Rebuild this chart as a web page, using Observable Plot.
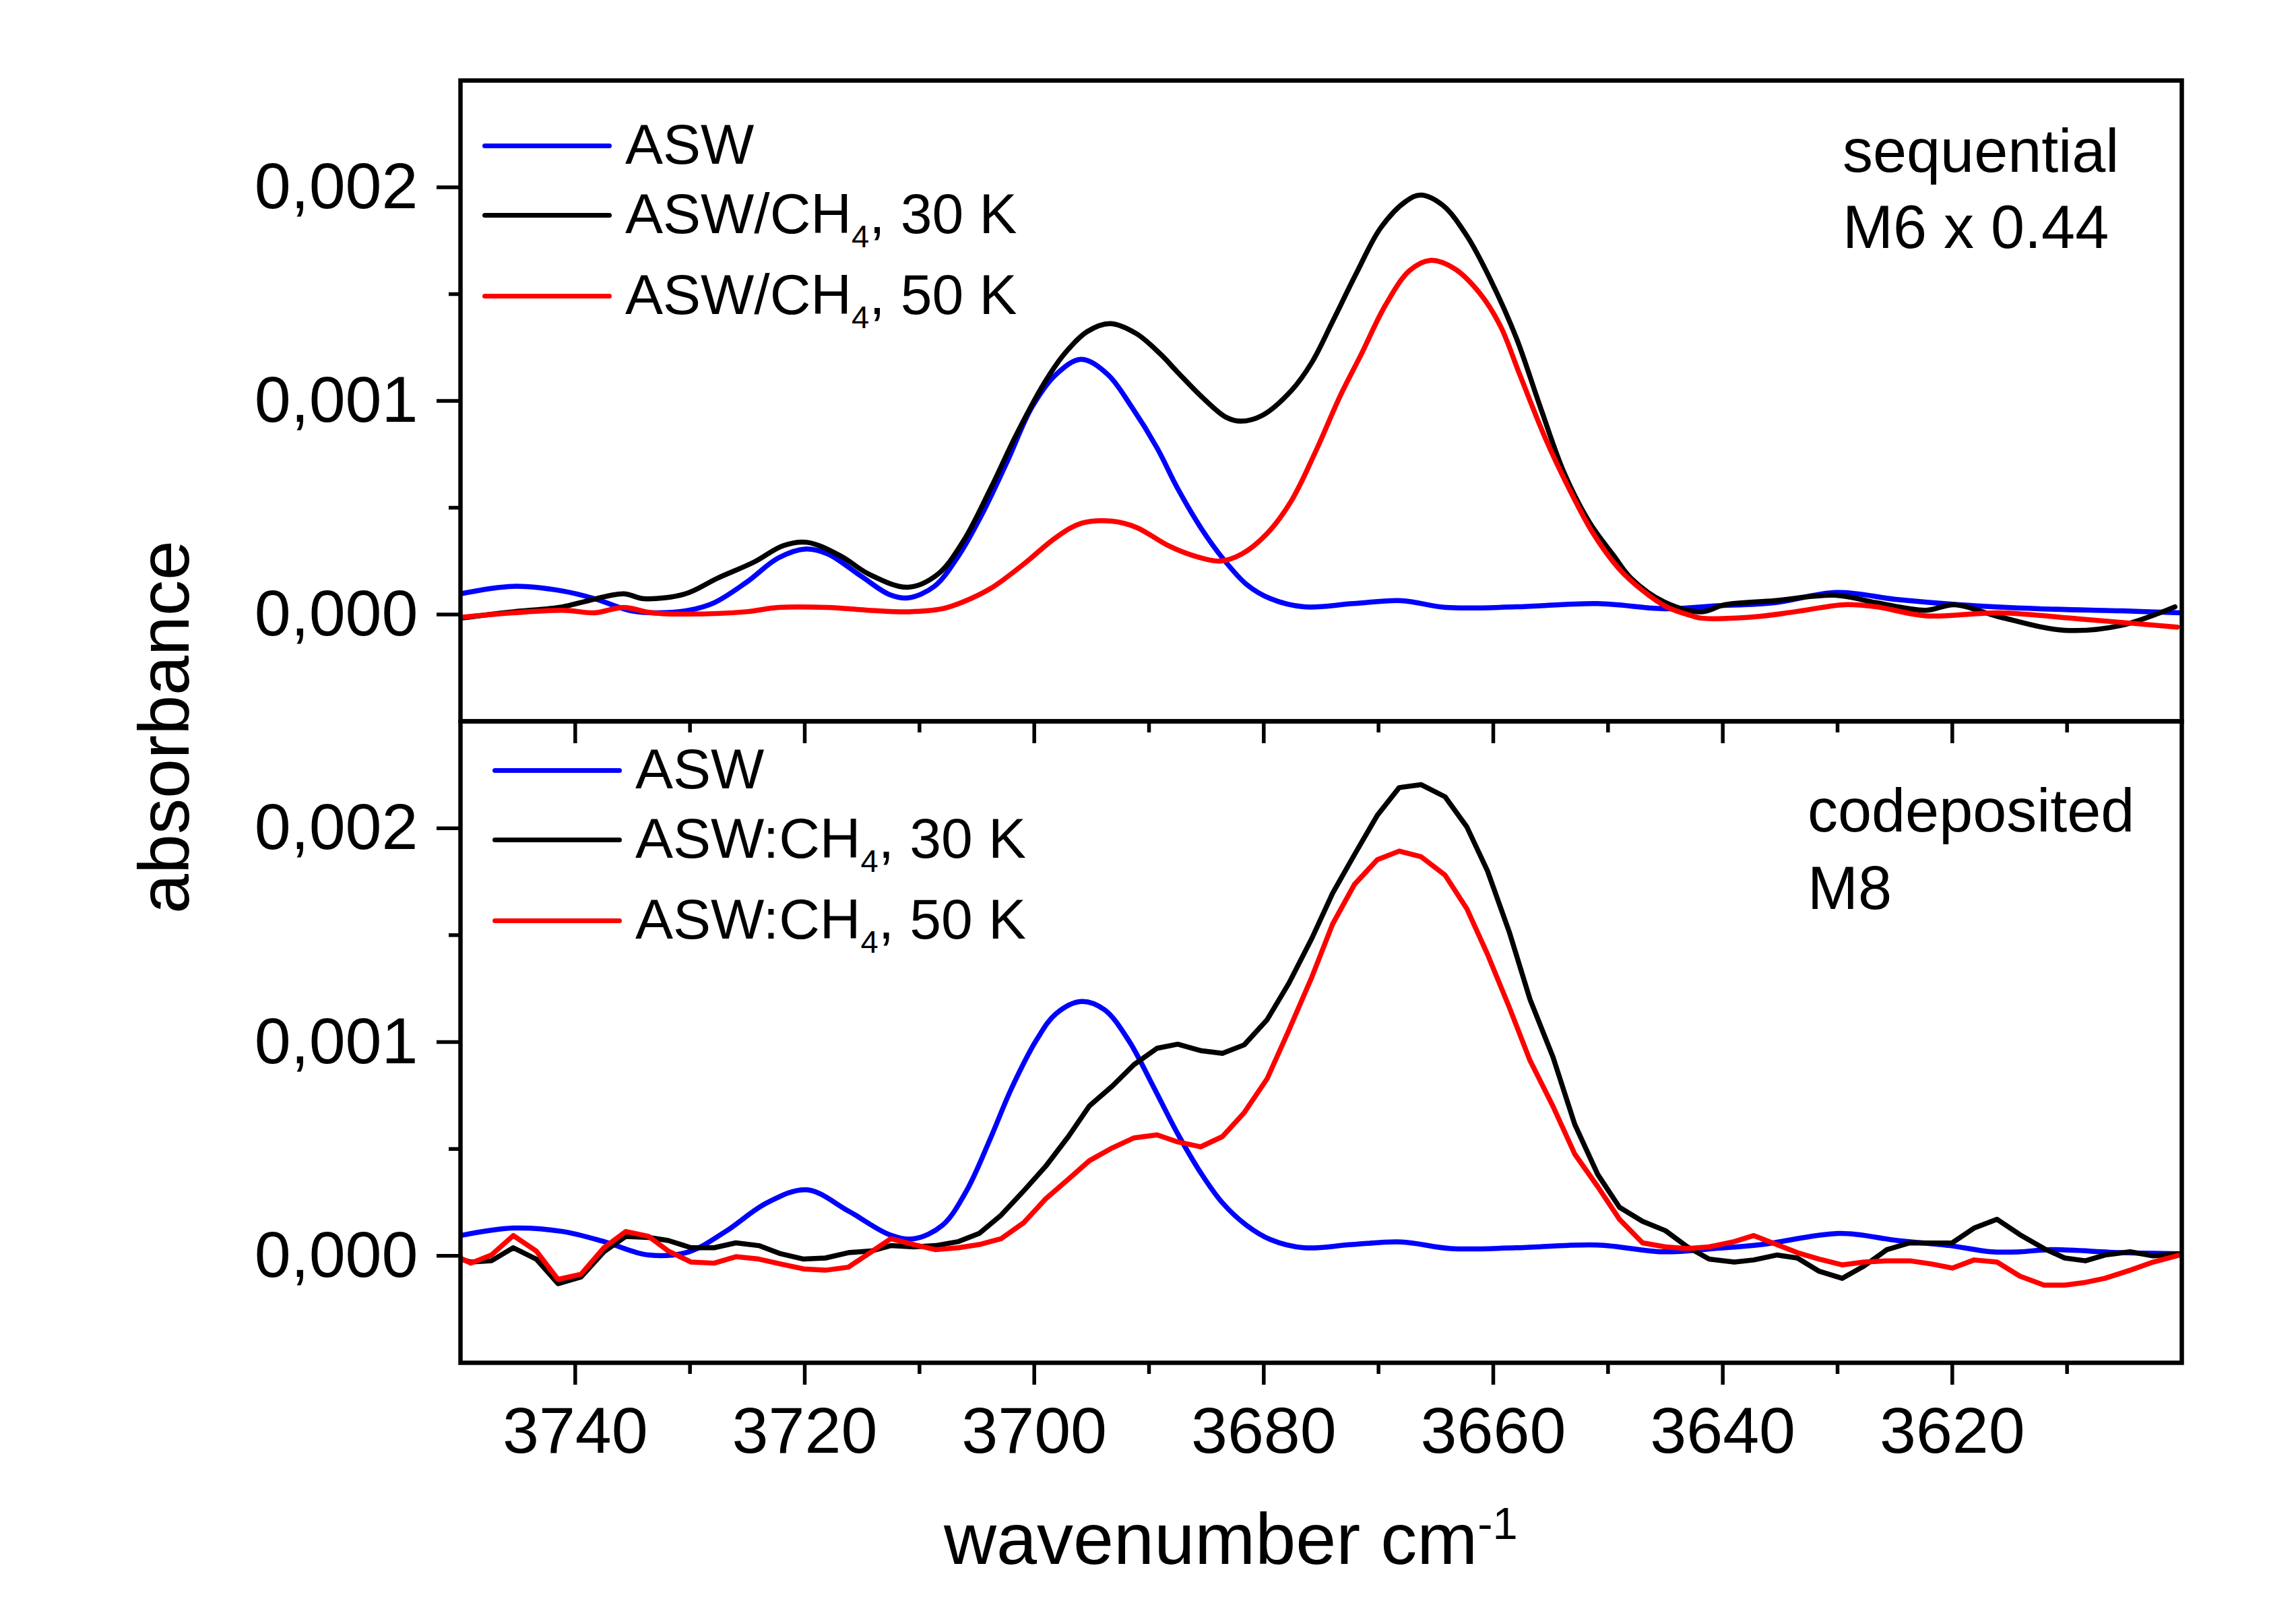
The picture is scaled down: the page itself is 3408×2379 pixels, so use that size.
<!DOCTYPE html>
<html>
<head>
<meta charset="utf-8">
<script src="https://cdn.jsdelivr.net/npm/d3@7"></script>
<script src="https://cdn.jsdelivr.net/npm/@observablehq/plot@0.6"></script>
<style>
  html, body { margin: 0; padding: 0; background: #fff; }
  #chart { position: relative; width: 3408px; height: 2379px; background: #fff; font-family: "Liberation Sans", Arial, sans-serif; color: #000; overflow: hidden; }
  #chart svg { position: absolute; left: 0; }
  .txt { position: absolute; white-space: nowrap; line-height: 1; }
  .leg { font-size: 84px; }
  .ann { font-size: 90px; }
  .swatch { position: absolute; height: 7px; border-radius: 3.5px; }
  sub { font-size: 0.56em; vertical-align: baseline; position: relative; top: 0.45em; line-height: 0; }
  sup { font-size: 0.62em; vertical-align: baseline; position: relative; top: -0.55em; line-height: 0; }
</style>
</head>
<body>
<div id="chart"></div>
<script>
// ---------- data (absorbance in units of 1e-3) ----------
// Top panel: sequential, M6 x 0.44
const seqAswWn = [3750,3745.4,3741.1,3738.3,3735.1,3732.9,3730.1,3727.9,3725.1,3722.3,3719.9,3718,3715.1,3712.6,3711,3708.7,3706.6,3704.5,3702.3,3700.2,3698.1,3695.9,3693.6,3691.5,3689.3,3687.5,3685.4,3683.6,3681.5,3679.4,3676.5,3672.2,3668,3664.1,3658,3650.9,3645.1,3640.8,3635.5,3630.1,3624.8,3619.4,3612.4,3605.2,3600];
const seqAswAbs = [0.097,0.132,0.11,0.074,0.017,0.008,0.02,0.055,0.15,0.265,0.307,0.284,0.18,0.093,0.078,0.132,0.275,0.475,0.723,0.971,1.124,1.195,1.124,0.971,0.78,0.59,0.399,0.265,0.141,0.074,0.036,0.051,0.065,0.033,0.036,0.051,0.027,0.04,0.055,0.103,0.07,0.046,0.027,0.017,0.008];

const seq30Wn = [3750,3745.7,3741.1,3739.3,3735.8,3734,3730.4,3727.6,3724.4,3721.9,3719.8,3716.9,3714.4,3711,3708.4,3706.2,3703.8,3701.6,3699.1,3697.3,3695.4,3693.4,3691.1,3689,3687.5,3685.4,3683.3,3682,3680.1,3677.6,3675.8,3674,3671.9,3669.8,3667.6,3666.3,3664.4,3662.3,3660.2,3658,3655.9,3653.8,3651.6,3649.5,3648,3645.1,3641.9,3639.8,3635.5,3630.1,3626.6,3622.3,3619.8,3615.9,3610.2,3605.2,3600.6];
const seq30Abs = [-0.017,0.011,0.036,0.059,0.097,0.074,0.097,0.17,0.246,0.322,0.338,0.275,0.189,0.128,0.189,0.342,0.59,0.838,1.086,1.225,1.324,1.362,1.315,1.219,1.134,1.019,0.924,0.905,0.933,1.048,1.181,1.372,1.601,1.811,1.935,1.964,1.916,1.773,1.563,1.296,0.971,0.66,0.43,0.275,0.17,0.059,0.013,0.046,0.065,0.09,0.055,0.02,0.046,-0.011,-0.074,-0.05,0.036];

const seq50Wn = [3750,3741.1,3738.3,3735.8,3733.3,3730.1,3725.1,3722.3,3718,3714.4,3710.9,3708,3706.2,3703.8,3700.9,3698.1,3695.9,3693.2,3691.1,3688.3,3686.1,3683.8,3681.9,3679.7,3677.6,3675.5,3673.3,3671.5,3669.4,3667.3,3665.5,3663.4,3661.2,3659.4,3657.7,3655.5,3653.4,3651.3,3649.1,3647,3644.9,3642.7,3641.9,3637.3,3633.7,3629.4,3626.6,3622.3,3615.9,3608.8,3600.4];
const seq50Abs = [-0.013,0.02,0.008,0.033,0.008,0.002,0.013,0.033,0.033,0.02,0.013,0.027,0.059,0.122,0.237,0.361,0.427,0.437,0.408,0.322,0.275,0.25,0.284,0.38,0.532,0.761,1.028,1.219,1.448,1.61,1.658,1.62,1.506,1.353,1.124,0.83,0.59,0.38,0.218,0.113,0.036,-0.006,-0.017,-0.011,0.013,0.046,0.036,-0.006,0.008,-0.021,-0.059];

// Bottom panel: codeposited, M8
const codAswWn = [3750,3745.4,3741.1,3737.5,3733.6,3730.1,3726.9,3723.3,3719.8,3716.2,3712.6,3710.5,3708,3705.9,3703.8,3702,3699.8,3698.1,3695.9,3693.9,3691.8,3689.7,3687.5,3685.4,3683.6,3681.5,3679.4,3676.5,3672.3,3668,3663.7,3658,3650.9,3645.2,3640.8,3636.6,3629.8,3624.8,3620.2,3616.6,3614.1,3611.6,3605.2,3600];
const codAswAbs = [0.095,0.13,0.114,0.067,0.004,0.019,0.114,0.248,0.309,0.21,0.099,0.08,0.143,0.305,0.552,0.781,1.01,1.133,1.19,1.152,1.01,0.8,0.571,0.381,0.248,0.143,0.076,0.038,0.053,0.065,0.034,0.038,0.051,0.019,0.034,0.053,0.105,0.072,0.048,0.019,0.019,0.029,0.015,0.01];

const cod30Wn = [3750,3749.1,3747.3,3745.4,3743.4,3741.5,3739.5,3737.5,3735.6,3733.6,3731.9,3729.9,3727.9,3726,3724,3722.1,3720.1,3718.2,3716.2,3714.2,3712.5,3710.5,3708.6,3706.6,3704.8,3702.9,3700.9,3699,3697,3695.2,3693.2,3691.3,3689.3,3687.5,3685.5,3683.6,3681.7,3679.7,3677.8,3675.8,3674,3672.1,3670.1,3668.2,3666.3,3664.2,3662.3,3660.5,3658.6,3656.8,3654.8,3652.9,3650.9,3649,3647,3645,3643.1,3641.2,3639,3637.3,3635.3,3633.5,3631.6,3629.6,3627.7,3625.7,3623.7,3621.8,3620,3618.1,3616.1,3614.1,3612,3610.2,3608.4,3606.7,3604.5,3602.5,3600.2];
const cod30Abs = [-0.015,-0.029,-0.023,0.038,-0.015,-0.13,-0.099,0.019,0.091,0.086,0.072,0.038,0.038,0.061,0.048,0.01,-0.015,-0.01,0.015,0.023,0.048,0.042,0.048,0.067,0.105,0.19,0.305,0.419,0.56,0.701,0.794,0.895,0.971,0.99,0.96,0.947,0.987,1.105,1.276,1.486,1.696,1.876,2.061,2.19,2.204,2.147,2.006,1.8,1.514,1.2,0.93,0.615,0.381,0.227,0.162,0.118,0.043,-0.015,-0.029,-0.019,0.004,-0.01,-0.072,-0.105,-0.048,0.029,0.061,0.06,0.061,0.13,0.171,0.099,0.034,-0.01,-0.023,0.004,0.019,0,0.01];

const cod50Wn = cod30Wn;
const cod50Abs = [-0.01,-0.034,0.004,0.095,0.023,-0.11,-0.086,0.038,0.114,0.091,0.023,-0.029,-0.034,-0.004,-0.015,-0.038,-0.061,-0.067,-0.053,0.019,0.08,0.053,0.029,0.038,0.053,0.08,0.156,0.267,0.36,0.445,0.505,0.552,0.566,0.533,0.51,0.558,0.67,0.829,1.057,1.305,1.552,1.737,1.853,1.893,1.867,1.781,1.623,1.41,1.162,0.914,0.7,0.476,0.324,0.171,0.061,0.042,0.034,0.042,0.067,0.095,0.053,0.015,-0.015,-0.042,-0.029,-0.023,-0.023,-0.038,-0.057,-0.019,-0.029,-0.095,-0.137,-0.137,-0.124,-0.105,-0.067,-0.029,0.004];

// axes
const xDomain = [3750, 3600];
const yDomain = [-0.5, 2.5];
const xMajor = [3740, 3720, 3700, 3680, 3660, 3640, 3620];
const xMinor = [3730, 3710, 3690, 3670, 3650, 3630, 3610];
const yMajor = [0, 1, 2];
const yMinor = [0.5, 1.5];

const topLegend = [
  {html: "ASW", color: "#0000ff"},
  {html: "ASW/CH<sub>4</sub>, 30 K", color: "#000000"},
  {html: "ASW/CH<sub>4</sub>, 50 K", color: "#ff0000"}
];
const bottomLegend = [
  {html: "ASW", color: "#0000ff"},
  {html: "ASW:CH<sub>4</sub>, 30 K", color: "#000000"},
  {html: "ASW:CH<sub>4</sub>, 50 K", color: "#ff0000"}
];

// ---------- build ----------
const table = (wn, ab) => wn.map((w, i) => ({wn: w, abs: ab[i]}));
const fmtY = d => (d / 1000).toFixed(3).replace(".", ",");
const FONT = '"Liberation Sans", Arial, sans-serif';
const LW = 7.5;

function yAxes() {
  return [
    Plot.axisY(yMajor, {tickSize: 35, tickPadding: 28, tickFormat: fmtY, strokeWidth: 5.5, fontSize: 97, label: null}),
    Plot.axisY(yMinor, {tickSize: 17, tickFormat: () => "", strokeWidth: 5.5, label: null})
  ];
}

function panel(series, opts) {
  return Plot.plot({
    width: 3408,
    height: opts.height,
    marginTop: opts.marginTop,
    marginBottom: opts.marginBottom,
    marginLeft: 683,
    marginRight: 170,
    x: {domain: xDomain, label: null},
    y: {domain: yDomain, label: null},
    style: {background: "transparent", fontFamily: FONT, fontSize: "97px", color: "#000", overflow: "visible"},
    marks: [
      ...series.map(s => Plot.line(s.data, {x: "wn", y: "abs", stroke: s.color, strokeWidth: LW, curve: s.curve, clip: true, strokeLinejoin: "round"})),
      ...yAxes(),
      Plot.axisX(xMajor, {tickSize: 33, tickPadding: 32, strokeWidth: 5.5, fontSize: 97,
        tickFormat: opts.labels ? (d => String(d)) : (() => ""), label: null}),
      Plot.axisX(xMinor, {tickSize: 17, strokeWidth: 5.5, tickFormat: () => "", label: null}),
      Plot.frame({stroke: "#000", strokeWidth: 6.5})
    ]
  });
}

const chart = document.getElementById("chart");

const topSvg = panel([
  {data: table(seqAswWn, seqAswAbs), color: "#0000ff", curve: "catmull-rom"},
  {data: table(seq30Wn, seq30Abs), color: "#000000", curve: "catmull-rom"},
  {data: table(seq50Wn, seq50Abs), color: "#ff0000", curve: "catmull-rom"}
], {height: 1110, marginTop: 119, marginBottom: 40, labels: false});
topSvg.style.top = "0px";

const botSvg = panel([
  {data: table(codAswWn, codAswAbs), color: "#0000ff", curve: "catmull-rom"},
  {data: table(cod30Wn, cod30Abs), color: "#000000", curve: "linear"},
  {data: table(cod50Wn, cod50Abs), color: "#ff0000", curve: "linear"}
], {height: 1349, marginTop: 40, marginBottom: 357, labels: true});
botSvg.style.top = "1030px";

chart.append(topSvg, botSvg);

// ---------- text overlays ----------
function addText(html, cls, x, baseline, size) {
  const d = document.createElement("div");
  d.className = "txt " + cls;
  d.innerHTML = html;
  d.style.left = x + "px";
  d.style.top = (baseline - 0.8465 * size) + "px";
  chart.append(d);
  return d;
}
function addLegend(items, lineX0, lineX1, textX, lineYs, baselines) {
  items.forEach((it, i) => {
    const s = document.createElement("div");
    s.className = "swatch";
    s.style.left = lineX0 + "px";
    s.style.width = (lineX1 - lineX0) + "px";
    s.style.top = (lineYs[i] - 3.5) + "px";
    s.style.background = it.color;
    chart.append(s);
    addText(it.html, "leg", textX, baselines[i], 84);
  });
}
addLegend(topLegend, 716, 908, 928, [216, 319, 439], [243, 346, 466]);
addLegend(bottomLegend, 731, 923, 943, [1143, 1246, 1366], [1170, 1273, 1393]);

addText("sequential", "ann", 2735, 255, 90);
addText("M6 x 0.44", "ann", 2735, 368, 90);
addText("codeposited", "ann", 2683, 1234, 90);
addText("M8", "ann", 2683, 1349, 90);

// x-axis title
const xt = addText("wavenumber cm<sup>-1</sup>", "", 1401, 2321, 108);
xt.style.fontSize = "108px";

// y-axis title (rotated)
const yt = document.createElement("div");
yt.className = "txt";
yt.textContent = "absorbance";
const F = 106, W = 1000, cx = 280 - 0.8465 * F + F / 2, cy = 1079;
Object.assign(yt.style, {fontSize: F + "px", width: W + "px", height: F + "px", textAlign: "center",
  left: (cx - W / 2) + "px", top: (cy - F / 2) + "px", transform: "rotate(-90deg)"});
chart.append(yt);
</script>
</body>
</html>
